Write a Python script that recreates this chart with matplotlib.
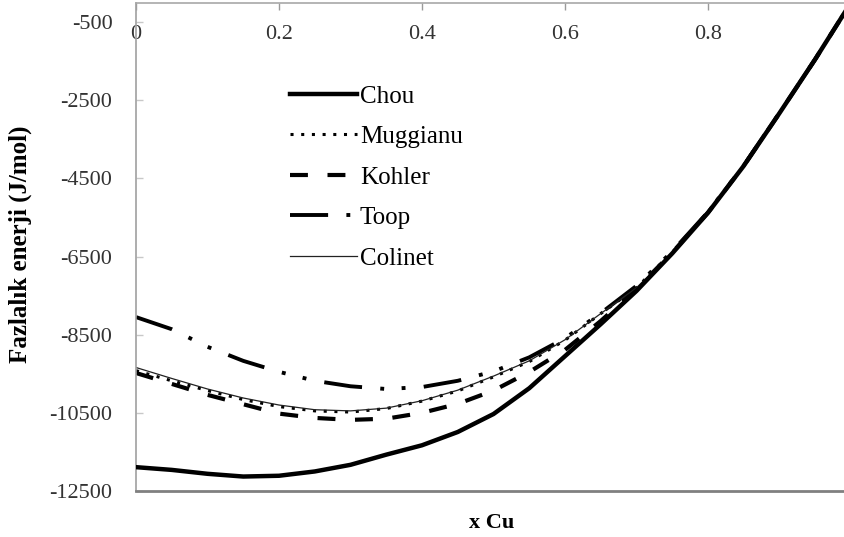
import numpy as np
import matplotlib
matplotlib.use("Agg")
import matplotlib.pyplot as plt

# mole fraction of Cu
x_cu = [0.0, 0.05, 0.1, 0.15, 0.2, 0.25, 0.3, 0.35, 0.4, 0.45, 0.5,
        0.55, 0.6, 0.65, 0.7, 0.75, 0.8, 0.85, 0.9, 0.95, 1.0]

# excess energy (J/mol) for each model
chou = [-11890, -11960, -12060, -12130, -12110, -12000, -11830, -11570, -11330, -10990, -10530,
        -9870, -9050, -8230, -7380, -6420, -5380, -4180, -2830, -1450, 0]
muggianu = [-9420, -9680, -9930, -10160, -10340, -10450, -10480, -10390, -10200, -9940, -9580,
            -9190, -8640, -7960, -7300, -6390, -5370, -4175, -2828, -1450, 0]
kohler = [-9480, -9760, -10040, -10280, -10520, -10630, -10680, -10650, -10500, -10270, -9930,
          -9455, -8890, -8150, -7330, -6400, -5375, -4178, -2829, -1450, 0]
toop = [-8050, -8360, -8810, -9170, -9450, -9680, -9820, -9890, -9840, -9680, -9440,
        -9080, -8590, -7950, -7250, -6370, -5360, -4170, -2825, -1450, 0]
colinet = [-9340, -9620, -9890, -10120, -10300, -10420, -10450, -10380, -10190, -9920, -9560,
           -9170, -8630, -7960, -7300, -6390, -5370, -4175, -2828, -1450, 0]

y_ticks = [-12500, -10500, -8500, -6500, -4500, -2500, -500]
x_ticks = [0, 0.2, 0.4, 0.6, 0.8]
x_tick_labels = ["0", "0.2", "0.4", "0.6", "0.8"]

plt.rcParams["font.family"] = ["Liberation Serif", "DejaVu Serif"]

fig = plt.figure(figsize=(8.45, 5.37), dpi=100)
# right edge of the plot area sits just outside the image (x = 1 is cropped off)
ax = fig.add_axes([136 / 845, 1 - 491 / 537, 715 / 845, 488.5 / 537])

ax.plot(x_cu, chou, color="black", lw=3.2, label="Chou", zorder=5)
ax.plot(x_cu, muggianu, color="black", lw=2.2, linestyle=(0, (1, 2.5)), label="Muggianu")
ax.plot(x_cu, kohler, color="black", lw=3.0, linestyle=(0, (4.3, 4.7)), label="Kohler")
ax.plot(x_cu, toop, color="black", lw=2.8, linestyle=(0, (9.8, 4.7, 1, 4.5, 1, 4.7)), label="Toop")
ax.plot(x_cu, colinet, color="#222222", lw=0.9, label="Colinet")

ax.set_xlim(0, 1)
ax.set_ylim(-12500, 0)

# x axis crosses at y = 0, so the ticks live on the top spine
ax.xaxis.tick_top()
ax.set_xticks(x_ticks)
ax.set_xticklabels(x_tick_labels)
ax.tick_params(axis="x", direction="in", length=5, width=1, color="#9a9a9a",
               labelsize=16, labelcolor="#333333", pad=-16.5)
for t in ax.xaxis.get_major_ticks():
    t.label2.set_va("top")

ax.set_yticks(y_ticks)
ax.set_yticklabels([str(v) for v in y_ticks])
ax.tick_params(axis="y", direction="in", length=5, width=1, color="#c8c8c8",
               labelsize=16, labelcolor="#333333", pad=17)

ax.spines["right"].set_visible(False)
ax.spines["top"].set_color("#a8a8a8")
ax.spines["top"].set_linewidth(1.2)
ax.spines["left"].set_color("#a0a0a0")
ax.spines["left"].set_linewidth(1.2)
ax.spines["bottom"].set_color("#808080")
ax.spines["bottom"].set_linewidth(2.0)

ax.set_xlabel("x Cu", fontsize=16, fontweight="bold")
ax.xaxis.set_label_position("bottom")
ax.xaxis.set_label_coords(0.498, -0.046)
ax.set_ylabel("Fazlalık enerji (J/mol)", fontsize=18, fontweight="bold")
ax.yaxis.set_label_coords(-0.145, 0.505)

ax.legend(loc="upper left", bbox_to_anchor=(0.215, 0.831), frameon=False, fontsize=18,
          handlelength=2.7, handletextpad=0.1, labelspacing=0.72, borderpad=0,
          borderaxespad=0)

fig.savefig("out.png", dpi=100)
